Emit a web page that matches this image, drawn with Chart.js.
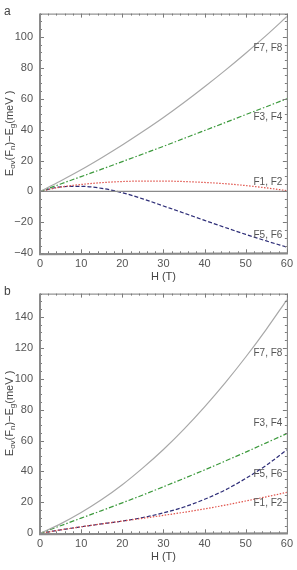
<!DOCTYPE html>
<html>
<head>
<meta charset="utf-8">
<script src="https://cdn.jsdelivr.net/npm/chart.js@4.4.1/dist/chart.umd.min.js"></script>
<style>
    body { margin: 0; background: #fff; }
    #wrap { position: relative; width: 297px; height: 570px; }
    canvas { position: absolute; left: 0; }
    #chartA { top: 0; }
    #chartB { top: 280px; }
</style>
</head>
<body>
<div id="wrap">
    <canvas id="chartA" width="297" height="285"></canvas>
    <canvas id="chartB" width="297" height="290"></canvas>
</div>
<script>
const hValues = [0, 5, 10, 15, 20, 25, 30, 35, 40, 45, 50, 55, 60];

// panel a
const aF7F8 = [0, 6.8, 14.0, 21.8, 30.0, 38.7, 47.8, 57.5, 67.7, 78.3, 89.4, 100.9, 113.1];
const aF3F4 = [0, 4.8, 9.6, 14.4, 19.3, 24.2, 29.2, 34.3, 39.4, 44.5, 49.7, 54.8, 60.0];
const aF1F2 = [0, 2.8, 4.5, 5.7, 6.4, 6.7, 6.7, 6.4, 5.8, 5.0, 3.8, 2.3, 0.5];
const aF5F6 = [0, 3.0, 3.3, 2.0, -0.8, -4.8, -9.4, -14.0, -18.7, -23.3, -27.8, -32.0, -36.0];
const aZero = [0, 0];
const aZeroH = [0, 60];

// panel b
const bF7F8 = [0, 6.1, 13.4, 21.8, 31.4, 42.3, 54.2, 67.4, 81.8, 97.3, 114.0, 131.9, 151.0];
const bF3F4 = [0, 4.9, 9.8, 14.7, 19.7, 24.8, 30.1, 35.5, 41.0, 46.7, 52.5, 58.5, 64.5];
const bF5F6 = [0, 2.2, 4.2, 6.1, 7.9, 10.2, 13.2, 17.0, 22.0, 28.0, 35.5, 44.0, 54.0];
const bF1F2 = [0, 2.2, 4.2, 6.1, 7.9, 9.7, 11.6, 13.6, 15.8, 18.2, 20.9, 23.6, 26.5];

const xTicks = [0, 10, 20, 30, 40, 50, 60];
const yTicksA = [-40, -20, 0, 20, 40, 60, 80, 100];
const yTicksB = [0, 20, 40, 60, 80, 100, 120, 140];

const seriesNamesA = ['F7, F8', 'F3, F4', 'F1, F2', 'F5, F6'];
const seriesNamesB = ['F7, F8', 'F3, F4', 'F5, F6', 'F1, F2'];

const FONT = '"Liberation Sans", Arial, sans-serif';
const GREY = '#a8a8a8', GREEN = '#3d9a3d', RED = '#e0524a', BLUE = '#2e2e78';

function pts(ys, xs) {
    return ys.map((y, i) => ({ x: (xs || hValues)[i], y: y }));
}

function line(data, color, dash) {
    return {
        data: data,
        borderColor: color,
        borderWidth: 1.2,
        borderDash: dash,
        pointRadius: 0,
        fill: false,
        cubicInterpolationMode: 'monotone'
    };
}

// frame, inward ticks, titles and curve labels
const framePlugin = {
    id: 'frame',
    afterDraw(chart, args, opts) {
        const c = chart.ctx, a = chart.chartArea;
        const xs = chart.scales.x, ys = chart.scales.y;
        c.save();
        c.strokeStyle = '#7a7a7a';
        c.lineWidth = 1;
        // ticks
        for (let v = xs.min; v <= xs.max; v += 2) {
            const px = Math.round(xs.getPixelForValue(v)) + 0.5;
            const len = v % 10 === 0 ? 4 : 2;
            c.beginPath();
            c.moveTo(px, a.bottom); c.lineTo(px, a.bottom - len);
            c.moveTo(px, a.top); c.lineTo(px, a.top + len);
            c.stroke();
        }
        for (let v = Math.ceil(ys.min / 5) * 5; v <= ys.max; v += 5) {
            const py = Math.round(ys.getPixelForValue(v)) + 0.5;
            const len = v % 20 === 0 ? 4 : 2;
            c.beginPath();
            c.moveTo(a.left, py); c.lineTo(a.left + len, py);
            c.moveTo(a.right, py); c.lineTo(a.right - len, py);
            c.stroke();
        }
        // frame
        c.strokeRect(a.left + 0.5, a.top + 0.5, a.right - a.left, a.bottom - a.top);
        c.lineWidth = 2;
        c.strokeStyle = '#8a8a8a';
        c.beginPath();
        c.moveTo(a.left, a.top); c.lineTo(a.left, a.bottom + 1); c.lineTo(a.right + 1, a.bottom);
        c.stroke();

        // curve labels
        c.fillStyle = '#555';
        c.font = '10px ' + FONT;
        c.textAlign = 'right';
        c.textBaseline = 'middle';
        opts.names.forEach((n, i) => {
            c.fillText(n, xs.getPixelForValue(58.9), ys.getPixelForValue(opts.labelY[i]));
        });

        // x title
        c.fillStyle = '#444';
        c.font = '11px ' + FONT;
        c.textAlign = 'center';
        c.fillText('H (T)', (a.left + a.right) / 2, 277);

        // panel letter
        c.font = '12px ' + FONT;
        c.textAlign = 'left';
        c.fillText(opts.letter, 4, 12);

        // y title with subscripts, rotated
        c.translate(10, (a.top + a.bottom) / 2);
        c.rotate(-Math.PI / 2);
        const parts = [
            ['E', 11, 0], ['ov', 8, 3], ['(F', 11, 0], ['n', 8, 3], [')\u2212E', 11, 0],
            ['g', 8, 3], ['(meV )', 11, 0]
        ];
        let w = 0;
        parts.forEach(p => { c.font = p[1] + 'px ' + FONT; w += c.measureText(p[0]).width; });
        let x = -w / 2;
        parts.forEach(p => {
            c.font = p[1] + 'px ' + FONT;
            c.fillText(p[0], x, p[2]);
            x += c.measureText(p[0]).width;
        });
        c.restore();
    }
};

function makePanel(id, datasets, yMin, yMax, yTicks, extra) {
    const h = document.getElementById(id).height;
    return new Chart(document.getElementById(id), {
        type: 'line',
        data: { datasets: datasets },
        plugins: [framePlugin],
        options: {
            responsive: false,
            animation: false,
            layout: { padding: { top: 7, right: 10, left: 0, bottom: 0 } },
            plugins: { legend: { display: false }, tooltip: { enabled: false }, frame: extra },
            scales: {
                x: {
                    type: 'linear', min: 0, max: 60,
                    grid: { display: false, drawTicks: false },
                    border: { display: false },
                    afterBuildTicks: s => { s.ticks = xTicks.map(v => ({ value: v })); },
                    afterFit: s => { s.height = h - 253.3; },
                    ticks: { padding: 4, color: '#555', font: { family: FONT, size: 11 } }
                },
                y: {
                    type: 'linear', min: yMin, max: yMax,
                    grid: { display: false, drawTicks: false },
                    border: { display: false },
                    afterBuildTicks: s => { s.ticks = yTicks.map(v => ({ value: v })); },
                    afterFit: s => { s.width = 40; },
                    ticks: {
                        padding: 7, color: '#555', font: { family: FONT, size: 11 },
                        callback: v => v < 0 ? '\u2212' + Math.abs(v) : String(v)
                    }
                }
            }
        }
    });
}

makePanel('chartA', [
    line(pts(aZero, aZeroH), '#8a8a8a', []),
    line(pts(aF7F8), GREY, []),
    line(pts(aF3F4), GREEN, [5, 2, 1.5, 2]),
    line(pts(aF1F2), RED, [1.5, 1.5]),
    line(pts(aF5F6), BLUE, [4, 2])
], -40, 115, yTicksA, { names: seriesNamesA, labelY: [92.3, 48.1, 5.9, -28.2], letter: 'a' });

makePanel('chartB', [
    line(pts(bF7F8), GREY, []),
    line(pts(bF3F4), GREEN, [5, 2, 1.5, 2]),
    line(pts(bF1F2), RED, [1.5, 1.5]),
    line(pts(bF5F6), BLUE, [4, 2])
], 0, 155, yTicksB, { names: seriesNamesB, labelY: [116.3, 71, 38.5, 19.6], letter: 'b' });
</script>
</body>
</html>
